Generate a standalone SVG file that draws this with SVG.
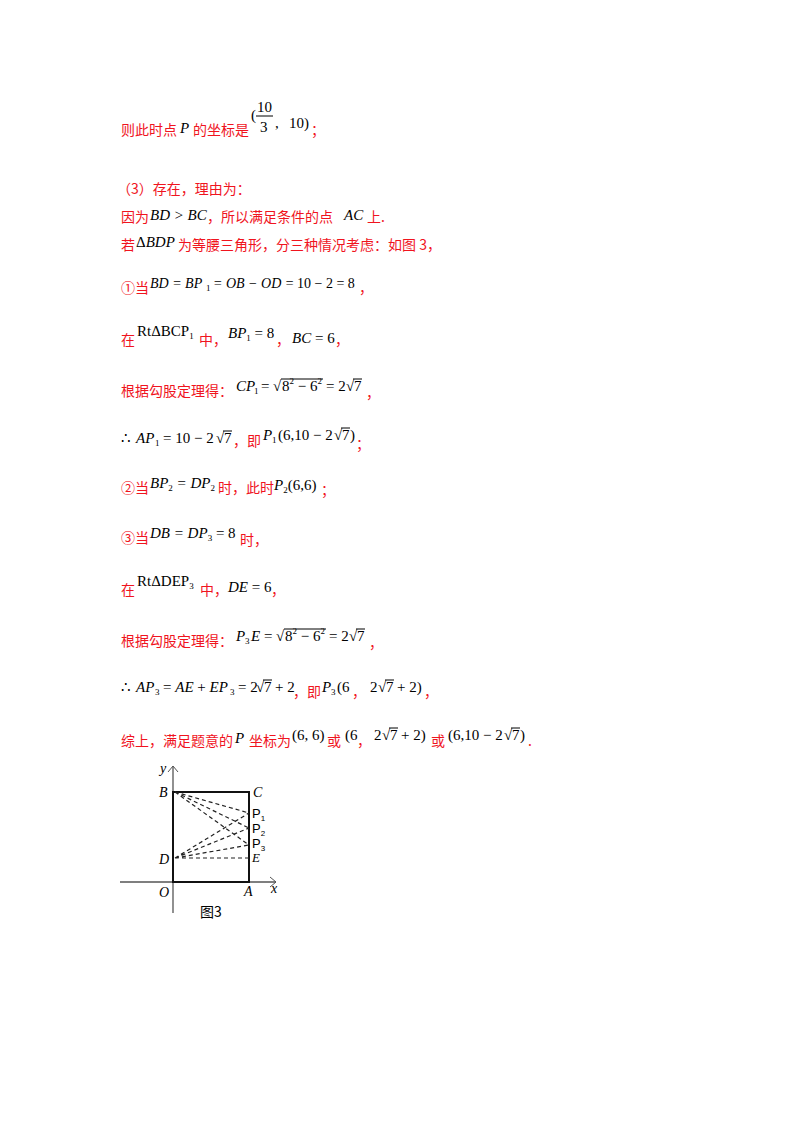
<svg xmlns="http://www.w3.org/2000/svg" width="800" height="1132" viewBox="0 0 800 1132">
<style>
.r{fill:#f0141e;font-family:"Noto Sans CJK SC",sans-serif;font-size:14px}
.m{fill:#000;font-family:"Liberation Serif",serif;font-size:15px}
.i{font-style:italic}
.s{font-size:9px;font-style:normal}
.k{fill:#000;font-family:"Noto Sans CJK SC",sans-serif;font-size:14px}
.o{stroke:#000;stroke-width:1}
.d{stroke:#222;stroke-width:1.2;stroke-dasharray:4,3;fill:none}
</style>
<rect width="800" height="1132" fill="#fff"/>
<g id="text">
<text class="r" x="121" y="135">则此时点</text><text class="m i" x="180" y="133">P</text><text class="r" x="193" y="135">的坐标是</text>
<text class="m" x="251" y="120">(</text><text class="m" x="257" y="112">10</text><line x1="256" y1="116" x2="273" y2="116" stroke="#000"/><text class="m" x="260" y="132">3</text><text class="m" x="275" y="128">,</text><text class="m" x="289" y="128">10)</text><text class="r" x="311" y="135">；</text>

<text class="r" x="117" y="194">（3）存在，理由为：</text>
<text class="r" x="121" y="222">因为</text><text class="m i" x="150" y="220">BD &gt; BC</text><text class="r" x="207" y="222">，所以满足条件的点</text><text class="m i" x="344" y="220">AC</text><text class="r" x="367" y="222">上.</text>
<text class="r" x="121" y="250">若</text><text class="m" x="136" y="247">Δ<tspan class="i">BDP</tspan></text><text class="r" x="178" y="250">为等腰三角形，分三种情况考虑：如图 3，</text>

<text class="r" x="121" y="293">①当</text>
<g class="m" style="font-size:14px"><text class="i" x="150" y="288">BD = BP</text><text class="s" x="206" y="291">1</text><text class="i" x="213" y="288">= OB − OD =</text><text x="297" y="288">10 − 2 = 8</text></g>
<text class="r" x="359" y="293">，</text>

<text class="r" x="121" y="345">在</text><text class="m" x="137" y="336" font-size="14">RtΔBCP<tspan class="s" dy="3">1</tspan></text><text class="r" x="199" y="345">中，</text><text class="m i" x="228" y="338">BP<tspan class="s" dy="3">1</tspan><tspan dy="-3" font-style="normal"> = 8</tspan></text><text class="r" x="276" y="345">，</text><text class="m i" x="292" y="343">BC <tspan font-style="normal">= 6</tspan></text><text class="r" x="335" y="345">，</text>

<text class="r" x="121" y="396">根据勾股定理得：</text>
<g class="m"><text class="i" x="236" y="391">CP</text><text class="s" x="254" y="394">1</text><text x="261" y="391">=</text><text x="273" y="391">√</text><text x="282" y="391">8<tspan font-size="9" dy="-7">2</tspan><tspan dy="7"> − 6</tspan><tspan font-size="9" dy="-7">2</tspan></text><text x="326" y="391">= 2</text><text x="346" y="391">√</text><text x="354" y="391">7</text></g>
<path class="o" d="M281 379 H323 M353 379 H362"/><text class="r" x="366" y="398">，</text>

<g class="m"><text x="121" y="443">∴</text><text class="i" x="136" y="443">AP</text><text class="s" x="155" y="446">1</text><text x="163" y="443">= 10 − 2</text><text x="216" y="443">√</text><text x="224" y="443">7</text>
<text class="i" x="263" y="440">P</text><text class="s" x="272" y="443">1</text><text x="278" y="440">(6,10 − 2</text><text x="334" y="440">√</text><text x="342" y="440">7</text><text x="350" y="440">)</text></g>
<path class="o" d="M223 431 H232 M341 428 H350"/>
<text class="r" x="233" y="446">，即</text><text class="r" x="356" y="449">；</text>

<text class="r" x="121" y="493">②当</text><text class="m i" x="150" y="488">BP<tspan class="s" dy="3">2</tspan><tspan dy="-3"> = DP</tspan><tspan class="s" dy="3">2</tspan></text><text class="r" x="218" y="493">时，此时</text><text class="m" x="274" y="490"><tspan class="i">P</tspan><tspan class="s" dy="3">2</tspan><tspan dy="-3">(6,6)</tspan></text><text class="r" x="321" y="495">；</text>

<text class="r" x="121" y="543">③当</text><text class="m i" x="150" y="538">DB = DP<tspan class="s" dy="3">3</tspan><tspan dy="-3" font-style="normal"> = 8</tspan></text><text class="r" x="240" y="545">时，</text>

<text class="r" x="121" y="595">在</text><text class="m" x="137" y="586" font-size="14">RtΔDEP<tspan class="s" dy="3">3</tspan></text><text class="r" x="200" y="595">中，</text><text class="m i" x="228" y="592">DE <tspan font-style="normal">= 6</tspan></text><text class="r" x="271" y="595">，</text>

<text class="r" x="121" y="646">根据勾股定理得：</text>
<g class="m"><text class="i" x="236" y="641">P</text><text class="s" x="245" y="644">3</text><text class="i" x="251" y="641">E</text><text x="264" y="641">=</text><text x="276" y="641">√</text><text x="285" y="641">8<tspan font-size="9" dy="-7">2</tspan><tspan dy="7"> − 6</tspan><tspan font-size="9" dy="-7">2</tspan></text><text x="329" y="641">= 2</text><text x="349" y="641">√</text><text x="357" y="641">7</text></g>
<path class="o" d="M284 629 H326 M356 629 H365"/><text class="r" x="369" y="648">，</text>

<g class="m"><text x="121" y="692">∴</text><text class="i" x="136" y="692">AP</text><text class="s" x="155" y="695">3</text><text x="163" y="692">= <tspan class="i">AE</tspan> + <tspan class="i">EP</tspan></text><text class="s" x="230" y="695">3</text><text x="238" y="692">= 2</text><text x="256" y="692">√</text><text x="264" y="692">7</text><text x="275" y="692">+ 2</text>
<text class="i" x="322" y="692">P</text><text class="s" x="331" y="695">3</text><text x="337" y="692">(6</text><text x="370" y="692">2</text><text x="378" y="692">√</text><text x="386" y="692">7</text><text x="397" y="692">+ 2)</text></g>
<path class="o" d="M263 680 H272 M385 680 H394"/>
<text class="r" x="293" y="697">，即</text><text class="r" x="352" y="697">，</text><text class="r" x="424" y="697">，</text>

<text class="r" x="121" y="746">综上，满足题意的</text><text class="m i" x="235" y="743">P</text><text class="r" x="249" y="746">坐标为</text>
<g class="m"><text x="292" y="740">(6, 6)</text><text x="345" y="740">(6</text><text x="374" y="740">2</text><text x="382" y="740">√</text><text x="390" y="740">7</text><text x="401" y="740">+ 2)</text><text x="448" y="740">(6,10 − 2</text><text x="504" y="740">√</text><text x="512" y="740">7</text><text x="520" y="740">)</text></g>
<path class="o" d="M389 728 H398 M511 728 H520"/>
<text class="r" x="327" y="746">或</text><text class="r" x="357" y="746">，</text><text class="r" x="431" y="746">或</text><text class="r" x="528" y="746">.</text>
</g>
<g id="figure" font-family="Liberation Serif" font-size="14" font-style="italic">
<line x1="120" y1="882" x2="276" y2="882" stroke="#555" stroke-width="1.3"/>
<path d="M270 877 L276 882 L270 887" stroke="#555" fill="none"/>
<line x1="173" y1="913" x2="173" y2="766" stroke="#555" stroke-width="1.3"/>
<path d="M168 772 L173 766 L178 772" stroke="#555" fill="none"/>
<rect x="173" y="792" width="76" height="90" fill="none" stroke="#111" stroke-width="2"/>
<g id="connectors">
<path class="d" d="M175 792 L249 813 M175 792 L249 828 M175 792 L249 845 M175 858 L249 813 M175 858 L249 828 M175 858 L249 845 M175 858 L249 858"/>
</g>
<text x="160" y="773">y</text>
<text x="159" y="797">B</text>
<text x="253" y="797">C</text>
<text x="159" y="864">D</text>
<text x="159" y="897">O</text>
<text x="244" y="896">A</text>
<text x="271" y="893">x</text>
<g font-family="Liberation Sans" font-size="13" font-style="normal">
<text x="252" y="818">P<tspan font-size="8" dy="3">1</tspan></text>
<text x="252" y="833">P<tspan font-size="8" dy="3">2</tspan></text>
<text x="252" y="848">P<tspan font-size="8" dy="3">3</tspan></text>
<text x="252" y="862" font-family="Liberation Serif" font-style="italic">E</text>
</g>
<text class="k" x="200" y="917" font-style="normal" font-size="13">图3</text>
</g>
</svg>
